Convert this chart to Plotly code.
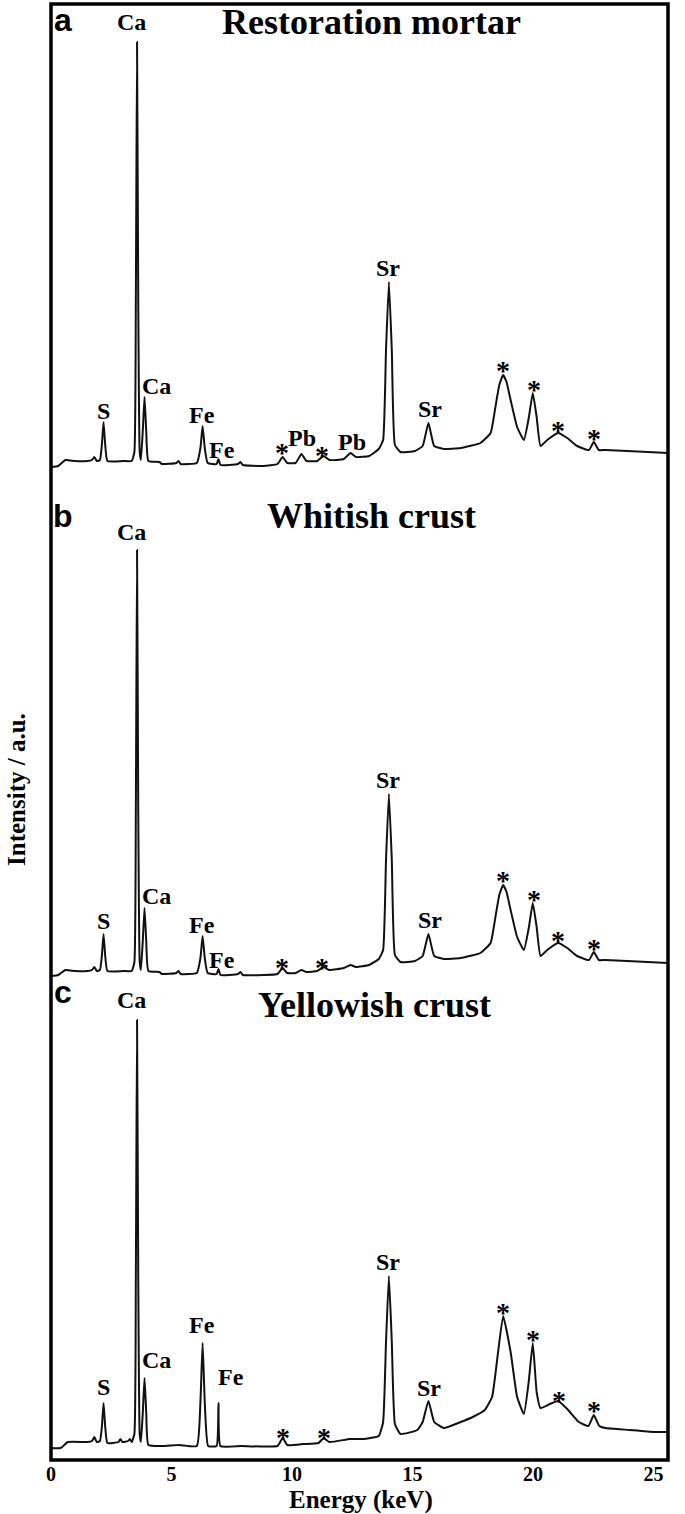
import plotly.graph_objects as go
from plotly.subplots import make_subplots

# ---------------- data ----------------
# Panel a: Restoration mortar
energy_a = [0.0, 0.3, 0.6, 1.0, 1.5, 1.7, 1.8, 1.9, 2.03, 2.11, 2.18, 2.25, 2.34, 3.0, 3.35, 3.46, 3.52, 3.57, 3.62, 3.68,
            3.73, 3.81, 3.88, 3.95, 4.04, 4.5, 4.6, 5.2, 5.29, 5.38, 6.05, 6.2, 6.29, 6.38, 6.5, 6.87, 6.95, 7.03, 7.76, 7.86,
            7.96, 8.8, 9.4, 9.61, 9.8, 10.15, 10.39, 10.6, 11.05, 11.31, 11.55, 12.15, 12.43, 12.65, 13.2, 13.6, 13.78, 13.9,
            14.02, 14.14, 14.27, 14.5, 15.1, 15.42, 15.66, 15.9, 16.3, 17.0, 17.82, 18.24, 18.44, 18.6, 18.76, 18.9, 19.07,
            19.34, 19.62, 19.83, 19.99, 20.15, 20.31, 20.59, 21.04, 21.42, 21.83, 22.32, 22.52, 22.73, 23.0, 23.91, 25.6]
intensity_a = [3, 4, 10, 9, 9, 10, 13, 9, 10, 25, 48, 25, 9, 9, 9, 18, 170, 428, 170, 18,
               10, 40, 73, 40, 9, 8, 6, 7, 9, 6, 7, 22, 44, 22, 7, 6, 11, 5, 6, 8,
               5, 4, 6, 13, 7, 7, 16, 9, 9, 14, 10, 11, 17, 13, 14, 21, 30, 120,
               188, 120, 25, 18, 19, 24, 47, 24, 21, 22, 27, 37, 63, 85, 95, 88, 70,
               43, 30, 53, 77, 53, 24, 30, 37, 32, 24, 20, 28, 20, 20, 19, 17]

# Panel b: Whitish crust
energy_b = [0.0, 0.3, 0.6, 1.0, 1.5, 1.7, 1.8, 1.9, 2.03, 2.11, 2.18, 2.25, 2.34, 3.0, 3.35, 3.46, 3.52, 3.57, 3.62, 3.68,
            3.73, 3.81, 3.88, 3.95, 4.04, 4.5, 4.6, 5.2, 5.29, 5.38, 6.05, 6.2, 6.29, 6.38, 6.5, 6.87, 6.95, 7.03, 7.76, 7.86,
            7.96, 8.8, 9.4, 9.61, 9.8, 10.15, 10.39, 10.6, 11.05, 11.31, 11.55, 12.15, 12.43, 12.65, 13.2, 13.6, 13.78, 13.9,
            14.02, 14.14, 14.27, 14.5, 15.1, 15.42, 15.66, 15.9, 16.3, 17.0, 17.82, 18.24, 18.44, 18.6, 18.76, 18.9, 19.07,
            19.34, 19.62, 19.83, 19.99, 20.15, 20.31, 20.59, 21.04, 21.42, 21.83, 22.32, 22.52, 22.73, 23.0, 23.91, 25.6]
intensity_b = [4, 5, 10, 9, 9, 10, 13, 9, 10, 24, 46, 24, 9, 9, 9, 18, 170, 430, 170, 18,
               10, 40, 72, 40, 9, 8, 6, 7, 9, 6, 7, 22, 44, 22, 7, 6, 11, 5, 6, 8,
               5, 5, 6, 12, 7, 7, 10, 8, 9, 13, 10, 12, 15, 13, 15, 21, 30, 120,
               186, 120, 25, 18, 19, 24, 46, 24, 21, 22, 27, 37, 63, 85, 95, 88, 70,
               43, 30, 53, 77, 53, 24, 30, 37, 32, 24, 20, 28, 20, 20, 19, 17]

# Panel c: Yellowish crust
energy_c = [0.0, 0.4, 0.7, 1.5, 1.7, 1.8, 1.9, 2.03, 2.11, 2.18, 2.25, 2.34, 2.8, 2.88, 2.96, 3.2, 3.27, 3.35, 3.46, 3.52,
            3.57, 3.62, 3.68, 3.73, 3.81, 3.88, 3.95, 4.04, 4.6, 5.3, 6.05, 6.2, 6.29, 6.38, 6.52, 6.87, 6.95, 7.03, 7.9, 9.4,
            9.61, 9.8, 10.5, 11.1, 11.31, 11.55, 12.4, 13.0, 13.6, 13.78, 13.9, 14.02, 14.14, 14.27, 14.5, 15.2, 15.42, 15.66,
            15.9, 16.3, 17.0, 17.5, 18.0, 18.3, 18.5, 18.76, 19.07, 19.34, 19.62, 19.82, 19.99, 20.15, 20.31, 20.7, 21.04,
            21.42, 21.9, 22.3, 22.52, 22.75, 23.0, 24.0, 25.0, 25.6]
intensity_c = [4, 4, 10, 10, 11, 15, 10, 11, 25, 49, 25, 9, 10, 13, 10, 11, 13, 10, 18, 175,
               432, 175, 18, 10, 40, 74, 40, 7, 6, 7, 6, 50, 109, 50, 6, 6, 49, 6, 6, 6,
               14, 7, 8, 9, 14, 10, 13, 13, 16, 30, 110, 176, 110, 28, 18, 22, 30, 51,
               30, 24, 30, 35, 42, 55, 90, 136, 100, 55, 38, 70, 109, 60, 44, 48, 51,
               43, 30, 26, 37, 26, 24, 22, 20, 20]

# peak labels: (text, energy, intensity)
labels_a = [("Ca", 3.36, 448), ("S", 2.16, 59), ("Ca", 4.36, 84), ("Fe", 6.27, 55), ("Fe", 7.1, 20),
            ("*", 9.59, 25), ("Pb", 10.41, 32), ("*", 11.24, 22), ("Pb", 12.49, 28), ("Sr", 13.98, 202),
            ("Sr", 15.73, 61), ("*", 18.76, 107), ("*", 20.04, 88), ("*", 21.04, 47), ("*", 22.53, 39)]
labels_b = [("Ca", 3.36, 448), ("S", 2.16, 59), ("Ca", 4.36, 84), ("Fe", 6.27, 55), ("Fe", 7.1, 20),
            ("*", 9.59, 20), ("*", 11.24, 20), ("Sr", 13.98, 200),
            ("Sr", 15.73, 60), ("*", 18.76, 107), ("*", 20.04, 88), ("*", 21.04, 47), ("*", 22.53, 39)]
labels_c = [("Ca", 3.36, 452), ("S", 2.18, 65), ("Ca", 4.36, 92), ("Fe", 6.25, 127), ("Fe", 7.45, 75),
            ("*", 9.61, 22), ("*", 11.31, 22), ("Sr", 13.98, 190),
            ("Sr", 15.7, 64), ("*", 18.76, 147), ("*", 20.0, 120), ("*", 21.06, 59), ("*", 22.52, 49)]

panel_letters = ["a", "b", "c"]
panel_titles = ["Restoration mortar", "Whitish crust", "Yellowish crust"]
x_ticks = [0, 5, 10, 15, 20, 25]
x_title = "Energy (keV)"
y_title = "Intensity / a.u."

# ---------------- layout geometry (pixels) ----------------
W, H = 685, 1514
L, R, T, B = 51, 17, 4, 54
plot_top, plot_bot = T, H - B
ph = plot_bot - plot_top
pw = W - L - R


def py(px):
    return (plot_bot - px) / ph


def pxx(px):
    return (px - L) / pw


# panel boundaries in pixels: a 4-478, b 478-985, c 985-1460
row_bounds = [(4, 478), (478, 985), (985, 1460)]
y_ranges = [[-8, 466], [-5, 502], [-8, 467]]

fig = make_subplots(rows=3, cols=1, shared_xaxes=True, vertical_spacing=0)

SERIF = "Liberation Serif, Times New Roman, serif"
spectra = [(energy_a, intensity_a), (energy_b, intensity_b), (energy_c, intensity_c)]
for i, (e, v) in enumerate(spectra):
    fig.add_trace(go.Scatter(x=e, y=v, mode="lines",
                             line=dict(color="#111111", width=2.0, shape="spline", smoothing=0.4),
                             showlegend=False, hoverinfo="skip"), row=i + 1, col=1)

for i, (top, bot) in enumerate(row_bounds):
    yname = "yaxis" if i == 0 else f"yaxis{i+1}"
    xname = "xaxis" if i == 0 else f"xaxis{i+1}"
    fig.layout[yname].update(domain=[py(bot), py(top)], range=y_ranges[i], visible=False)
    fig.layout[xname].update(range=[0, 25.6], showgrid=False, zeroline=False, showline=False,
                             showticklabels=(i == 2), ticks="")
fig.layout.xaxis3.update(tickvals=x_ticks, ticktext=[f"<b>{t}</b>" for t in x_ticks],
                         tickfont=dict(family=SERIF, size=20, color="black"))

ann = []
for i, labs in enumerate([labels_a, labels_b, labels_c]):
    xr = "x" if i == 0 else f"x{i+1}"
    yr = "y" if i == 0 else f"y{i+1}"
    for text, e, v in labs:
        is_star = text == "*"
        ann.append(dict(text=f"<b>{text}</b>", x=e, y=v - (7 if is_star else 0), xref=xr, yref=yr,
                        xanchor="center", yanchor="middle",
                        showarrow=False, font=dict(family=SERIF, size=28 if is_star else 24, color="black")))

letter_y = [20, 516, 992]
title_y = [22, 516, 1005]
title_x = [371, 371, 375]
for i in range(3):
    ann.append(dict(text=f"<b>{panel_letters[i]}</b>", x=pxx(63), y=py(letter_y[i]), xref="paper", yref="paper",
                    xanchor="center", yanchor="middle",
                    showarrow=False, font=dict(family="Liberation Sans, Arial, sans-serif", size=32, color="black")))
    ann.append(dict(text=f"<b>{panel_titles[i]}</b>", x=pxx(title_x[i]), y=py(title_y[i]), xref="paper",
                    yref="paper", xanchor="center", yanchor="middle",
                    showarrow=False, font=dict(family=SERIF, size=36, color="black")))

ann.append(dict(text=f"<b>{x_title}</b>", x=pxx(361), y=py(1500), xref="paper", yref="paper", showarrow=False,
                xanchor="center", yanchor="middle", font=dict(family=SERIF, size=25, color="black")))
ann.append(dict(text=f"<b>{y_title}</b>", x=pxx(16), y=py(790), xref="paper", yref="paper", showarrow=False,
                xanchor="center", yanchor="middle",
                textangle=-90, font=dict(family=SERIF, size=25, color="black")))

fig.update_layout(width=W, height=H, margin=dict(l=L, r=R, t=T, b=B), paper_bgcolor="white",
                  plot_bgcolor="white", annotations=ann,
                  shapes=[dict(type="rect", xref="paper", yref="paper", x0=0, x1=1, y0=0, y1=1,
                               line=dict(color="black", width=3.5))])

fig.write_html("out.html", config={"displayModeBar": False, "staticPlot": True},
               post_script="document.body.style.margin='0';")
